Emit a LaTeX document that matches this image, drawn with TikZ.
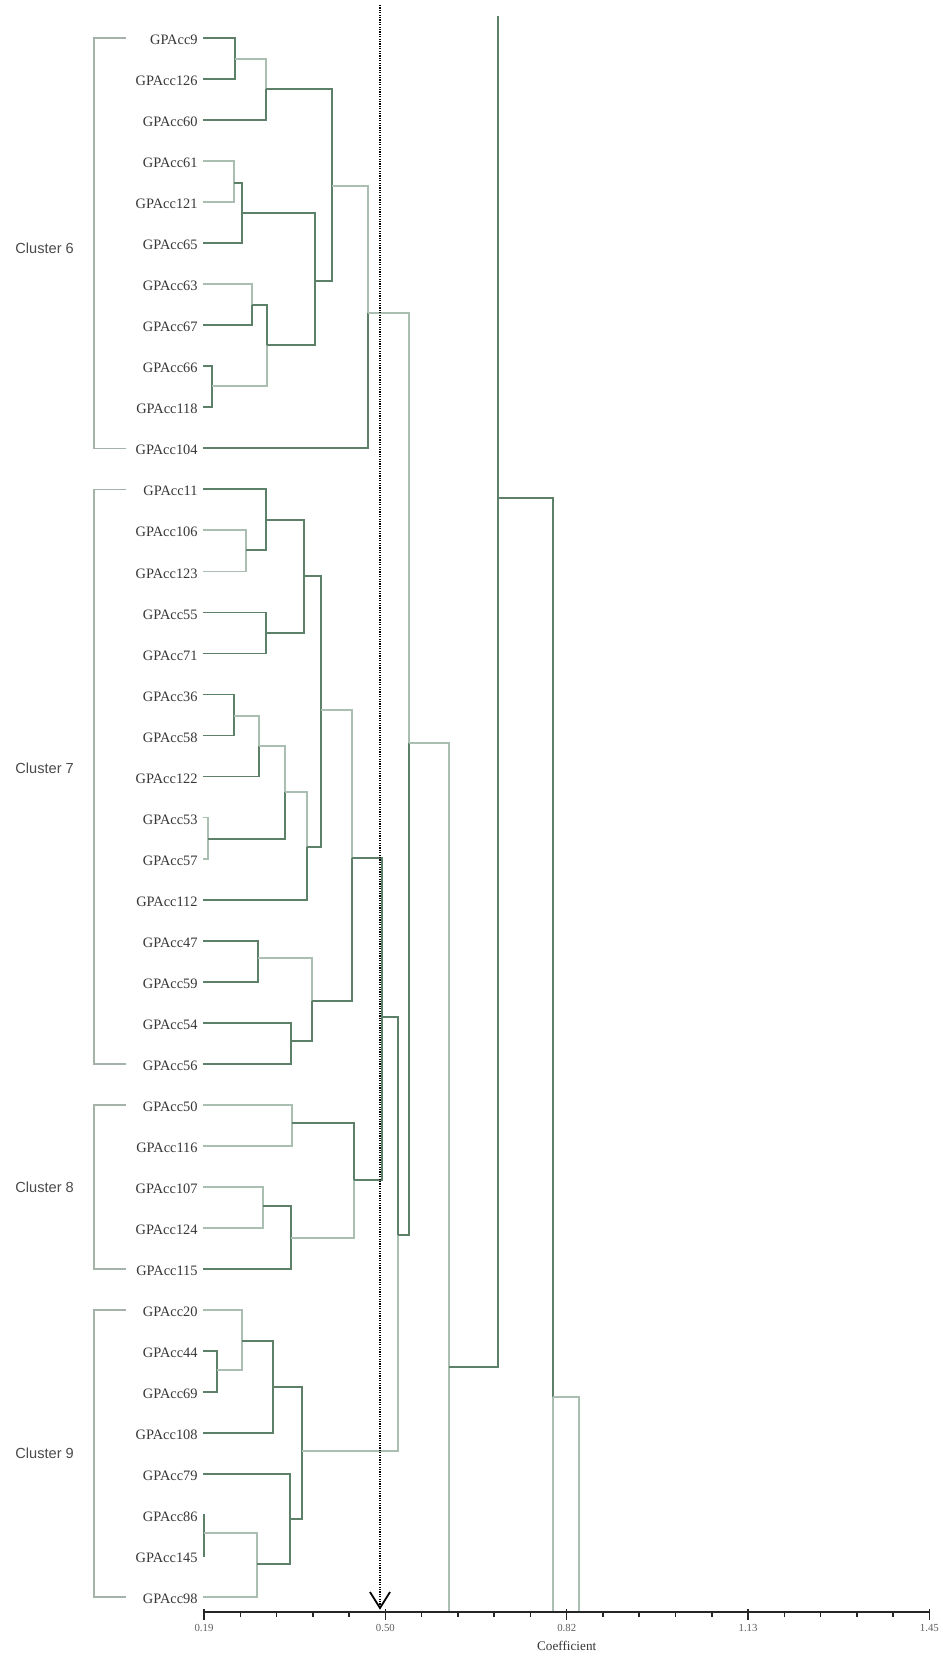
\documentclass[tikz,border=0pt]{standalone}
\usepackage{fontspec}
\setmainfont{Liberation Serif}
\newfontfamily\clusterfont{Liberation Sans}
\definecolor{dkg}{RGB}{92,128,104}
\definecolor{ltg}{RGB}{170,190,178}
\definecolor{brg}{RGB}{165,178,170}
\definecolor{txt}{RGB}{55,55,55}
\begin{document}
\begin{tikzpicture}[x=0.5pt,y=-0.5pt,
  leaf/.style={anchor=east, inner xsep=2.5pt, inner ysep=0pt, text height=0.66em, text depth=0pt,
    font=\fontsize{7.2}{8}\selectfont, text=txt},
  clab/.style={anchor=west, inner sep=0pt, font=\clusterfont\fontsize{7.3}{8}\selectfont, text=txt!90},
  ticklab/.style={anchor=north, inner sep=0pt, font=\fontsize{5.4}{6}\selectfont, text=txt!80},
  dk/.style={draw=dkg, line width=0.9pt},
  lt/.style={draw=ltg, line width=0.9pt},
  br/.style={draw=brg, line width=0.8pt},
  axisline/.style={draw=black!85, line width=0.75pt},
  cutline/.style={draw=black, line width=0.6pt, dash pattern=on 0.6pt off 0.6pt},
  arrowv/.style={draw=black, line width=0.9pt}]
\useasboundingbox (0,0) rectangle (943,1656);
\fill[white] (0,0) rectangle (943,1656);

% leaves
\foreach \i/\n in {0/9,1/126,2/60,3/61,4/121,5/65,6/63,7/67,8/66,9/118,10/104,
  11/11,12/106,13/123,14/55,15/71,16/36,17/58,18/122,19/53,20/57,21/112,22/47,23/59,24/54,25/56,
  26/50,27/116,28/107,29/124,30/115,
  31/20,32/44,33/69,34/108,35/79,36/86,37/145,38/98}
  \node[leaf] (l\n) at (203,{38+41.03*\i}) {GPAcc\n};

% internal nodes (x of join, y of outgoing branch)
\coordinate (a1) at (235,59);
\coordinate (a2) at (266,89);
\coordinate (a3) at (234,183);
\coordinate (a4) at (242,213);
\coordinate (a5) at (252,305);
\coordinate (a6) at (212,386);
\coordinate (a7) at (267,345);
\coordinate (a8) at (315,281);
\coordinate (a9) at (332,186);
\coordinate (a10) at (368,313);
\coordinate (b1) at (246,550);
\coordinate (b2) at (266,520);
\coordinate (b3) at (266,633);
\coordinate (b4) at (304,576);
\coordinate (b5) at (234,716);
\coordinate (b6) at (259,746);
\coordinate (b7) at (208,839);
\coordinate (b8) at (285,792);
\coordinate (b9) at (307,847);
\coordinate (b10) at (321,710);
\coordinate (b11) at (258,958);
\coordinate (b12) at (291,1041);
\coordinate (b13) at (312,1001);
\coordinate (b14) at (352,858);
\coordinate (c1) at (292,1123);
\coordinate (c2) at (263,1206);
\coordinate (c3) at (291,1238);
\coordinate (c4) at (354,1180);
\coordinate (d0) at (382,1017);
\coordinate (e1) at (217,1370);
\coordinate (e2) at (242,1341);
\coordinate (e3) at (273,1387);
\coordinate (e4) at (204,1533);
\coordinate (e5) at (257,1564);
\coordinate (e6) at (290,1519);
\coordinate (e7) at (302,1451);
\coordinate (f1) at (398,1235);
\coordinate (f2) at (409,743);
\coordinate (f3) at (449,1367);
\coordinate (f3bot) at (449,1611);
\coordinate (root) at (498,498);
\coordinate (rtop) at (498,16);
\coordinate (g1) at (553,1397);
\coordinate (g1bot) at (553,1611);
\coordinate (g2bot) at (579,1611);

% cluster 6
\draw[dk] (l9.east) -| (a1);
\draw[dk] (l126.east) -| (a1);
\draw[lt] (a1) -| (a2);
\draw[dk] (l60.east) -| (a2);
\draw[lt] (l61.east) -| (a3);
\draw[lt] (l121.east) -| (a3);
\draw[dk] (a3) -| (a4);
\draw[dk] (l65.east) -| (a4);
\draw[lt] (l63.east) -| (a5);
\draw[dk] (l67.east) -| (a5);
\draw[dk] (l66.east) -| (a6);
\draw[dk] (l118.east) -| (a6);
\draw[dk] (a5) -| (a7);
\draw[lt] (a6) -| (a7);
\draw[dk] (a4) -| (a8);
\draw[dk] (a7) -| (a8);
\draw[dk] (a2) -| (a9);
\draw[dk] (a8) -| (a9);
\draw[lt] (a9) -| (a10);
\draw[dk] (l104.east) -| (a10);
\draw[lt] (a10) -| (f2);
% cluster 7
\draw[lt] (l106.east) -| (b1);
\draw[lt] (l123.east) -| (b1);
\draw[dk] (l11.east) -| (b2);
\draw[dk] (b1) -| (b2);
\draw[dk] (l55.east) -| (b3);
\draw[dk] (l71.east) -| (b3);
\draw[dk] (b2) -| (b4);
\draw[dk] (b3) -| (b4);
\draw[dk] (l36.east) -| (b5);
\draw[dk] (l58.east) -| (b5);
\draw[lt] (b5) -| (b6);
\draw[dk] (l122.east) -| (b6);
\draw[lt] (l53.east) -| (b7);
\draw[lt] (l57.east) -| (b7);
\draw[lt] (b6) -| (b8);
\draw[dk] (b7) -| (b8);
\draw[lt] (b8) -| (b9);
\draw[dk] (l112.east) -| (b9);
\draw[dk] (b4) -| (b10);
\draw[dk] (b9) -| (b10);
\draw[dk] (l47.east) -| (b11);
\draw[dk] (l59.east) -| (b11);
\draw[dk] (l54.east) -| (b12);
\draw[dk] (l56.east) -| (b12);
\draw[lt] (b11) -| (b13);
\draw[dk] (b12) -| (b13);
\draw[lt] (b10) -| (b14);
\draw[dk] (b13) -| (b14);
\draw[dk] (b14) -| (d0);
% cluster 8
\draw[lt] (l50.east) -| (c1);
\draw[lt] (l116.east) -| (c1);
\draw[lt] (l107.east) -| (c2);
\draw[lt] (l124.east) -| (c2);
\draw[dk] (c2) -| (c3);
\draw[dk] (l115.east) -| (c3);
\draw[dk] (c1) -| (c4);
\draw[lt] (c3) -| (c4);
\draw[dk] (c4) -| (d0);
\draw[dk] (d0) -| (f1);
% cluster 9
\draw[dk] (l44.east) -| (e1);
\draw[dk] (l69.east) -| (e1);
\draw[lt] (l20.east) -| (e2);
\draw[lt] (e1) -| (e2);
\draw[dk] (e2) -| (e3);
\draw[dk] (l108.east) -| (e3);
\draw[dk] (l86.east) -| (e4);
\draw[dk] (l145.east) -| (e4);
\draw[lt] (e4) -| (e5);
\draw[lt] (l98.east) -| (e5);
\draw[dk] (l79.east) -| (e6);
\draw[dk] (e5) -| (e6);
\draw[dk] (e3) -| (e7);
\draw[dk] (e6) -| (e7);
\draw[lt] (e7) -| (f1);
% upper levels
\draw[dk] (f1) -| (f2);
\draw[lt] (f2) -| (f3);
\draw[lt] (f3) -- (f3bot);
\draw[dk] (f3) -| (root);
\draw[dk] (root) -- (rtop);
\draw[dk] (root) -| (g1);
\draw[lt] (g1) -- (g1bot);
\draw[lt] (g1) -| (g2bot);

% cluster brackets
\foreach \t/\b/\c in {9/104/6, 11/56/7, 50/115/8, 20/98/9}{
  \draw[br] (126,0 |- l\t.east) -- (94,0 |- l\t.east)
        -- (94,0 |- l\b.east) -- (126,0 |- l\b.east);
}
\node[clab] (cl6) at (15,248) {Cluster 6};
\node[clab] (cl7) at (15,768) {Cluster 7};
\node[clab] (cl8) at (15,1187) {Cluster 8};
\node[clab] (cl9) at (15,1453) {Cluster 9};

% axis
\coordinate (ax0) at (204,1612);
\coordinate (ax1) at (929.4,1612);
\draw[axisline] (ax0) -- (ax1);
\foreach \k in {0,...,20}{
  \pgfmathsetmacro{\xx}{204+36.27*\k}
  \draw[axisline] (\xx,1612) -- (\xx,1617);
}
\foreach \k/\lab in {0/0.19,5/0.50,10/0.82,15/1.13,20/1.45}{
  \pgfmathsetmacro{\xx}{204+36.27*\k}
  \draw[axisline] (\xx,1609) -- (\xx,1620);
  \node[ticklab] (t\k) at (\xx,1624) {\lab};
}
\node[anchor=north, inner sep=0pt, font=\fontsize{6.6}{7}\selectfont, text=txt] (coef) at (566.7,1641) {Coefficient};

% cut-off line with arrow
\coordinate (cuttop) at (380,5);
\coordinate (cutbot) at (380,1608);
\draw[cutline] (cuttop) -- (cutbot);
\draw[arrowv] (370,1592) -- (cutbot) -- (390,1592);
\end{tikzpicture}
\end{document}
